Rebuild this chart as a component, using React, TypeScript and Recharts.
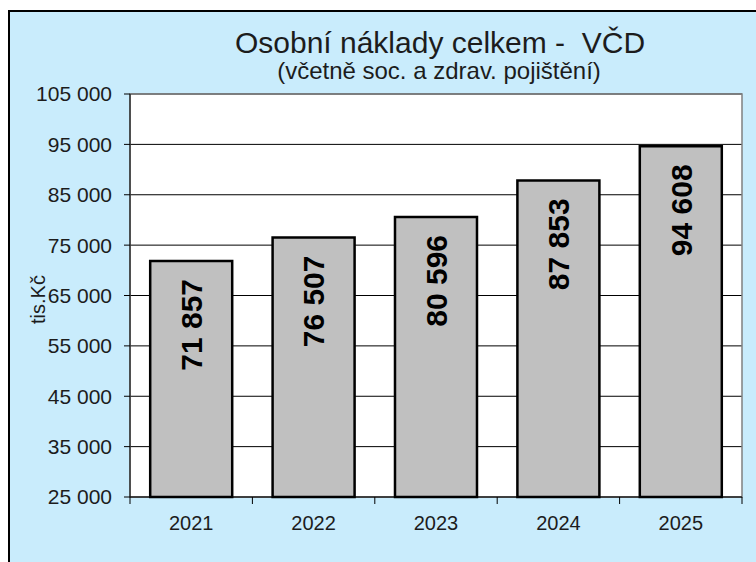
import { BarChart, Bar, XAxis, YAxis, CartesianGrid, LabelList, ReferenceArea } from 'recharts';

const YEARS = ['2021', '2022', '2023', '2024', '2025'];
const COSTS = [71857, 76507, 80596, 87853, 94608];
const Y_TICKS = [25000, 35000, 45000, 55000, 65000, 75000, 85000, 95000, 105000];
const TITLE = 'Osobní náklady celkem -  VČD';
const SUBTITLE = '(včetně soc. a zdrav. pojištění)';
const UNIT = 'tis.Kč';

const data = YEARS.map((year, i) => ({ year, value: COSTS[i] }));

const FONT = '"Liberation Sans", Arial, sans-serif';
const INK = '#1c1c1c';
const BG = '#c9ecfc';

const CHART_W = 746;
const CHART_H = 550;
const MARGIN = { top: 82, right: 14, bottom: 25, left: 0 };
const Y_W = 120;
const PLOT_W = CHART_W - MARGIN.left - MARGIN.right - Y_W;
const BAND = PLOT_W / YEARS.length;

const fmt = (v: number) => String(v).replace(/\B(?=(\d{3})+(?!\d))/g, ' ');

function YearTick(props: any) {
  const { x, y, payload, index } = props;
  return (
    <g>
      <line x1={x - BAND / 2} x2={x - BAND / 2} y1={y} y2={y + 7} stroke="#000" />
      {index === YEARS.length - 1 && (
        <line x1={x + BAND / 2} x2={x + BAND / 2} y1={y} y2={y + 7} stroke="#000" />
      )}
      <text x={x} y={y + 33} textAnchor="middle" fontSize={20} fill={INK} fontFamily={FONT}>
        {payload.value}
      </text>
    </g>
  );
}

function ValueLabel(props: any) {
  const { x, y, width, value } = props;
  const cx = x + width / 2;
  const ty = y + 18;
  return (
    <text
      x={cx}
      y={ty}
      dy="0.36em"
      transform={`rotate(-90 ${cx} ${ty})`}
      textAnchor="end"
      fontSize={30}
      fontWeight="bold"
      fill="#000"
      fontFamily={FONT}
    >
      {fmt(value)}
    </text>
  );
}

function UnitLabel(props: any) {
  const vb = props.viewBox;
  const x = vb.x + 35;
  const y = vb.y + vb.height / 2 + 4;
  return (
    <text x={x} y={y} transform={`rotate(-90 ${x} ${y})`} textAnchor="middle" fontSize={20} fill={INK} fontFamily={FONT}>
      {UNIT}
    </text>
  );
}

export default function App() {
  return (
    <div
      style={{
        position: 'absolute',
        left: 8,
        top: 10,
        width: 748,
        height: 552,
        boxSizing: 'border-box',
        borderLeft: '2px solid #000',
        borderTop: '2px solid #000',
        background: BG,
        fontFamily: FONT,
      }}
    >
      <svg width={CHART_W} height={100} style={{ position: 'absolute', left: 0, top: 0, pointerEvents: 'none' }}>
        <text x={430} y={41} textAnchor="middle" fontSize={30} fill={INK} fontFamily={FONT} style={{ whiteSpace: 'pre' }}>
          {TITLE}
        </text>
        <text x={429} y={67} textAnchor="middle" fontSize={24} fill={INK} fontFamily={FONT}>
          {SUBTITLE}
        </text>
      </svg>
      <BarChart width={CHART_W} height={CHART_H} data={data} margin={MARGIN} barCategoryGap="16.5%">
        <CartesianGrid vertical={false} stroke="#000" fill="#fff" />
        <XAxis
          dataKey="year"
          axisLine={{ stroke: '#000' }}
          tickLine={false}
          tickSize={0}
          tickMargin={0}
          height={40}
          tick={<YearTick />}
          interval={0}
        />
        <YAxis
          type="number"
          domain={[25000, 105000]}
          ticks={Y_TICKS}
          interval={0}
          width={Y_W}
          tickFormatter={fmt}
          tickSize={6}
          tickMargin={12}
          axisLine={{ stroke: '#000' }}
          tickLine={{ stroke: '#000' }}
          tick={{ fontSize: 21, fill: INK, fontFamily: FONT }}
          label={UnitLabel}
        />
        <ReferenceArea y1={25000} y2={105000} fill="none" stroke="#808080" strokeWidth={1.5} />
        <Bar dataKey="value" fill="#c0c0c0" stroke="#000" strokeWidth={2.5} isAnimationActive={false}>
          <LabelList dataKey="value" content={ValueLabel} />
        </Bar>
      </BarChart>
    </div>
  );
}
